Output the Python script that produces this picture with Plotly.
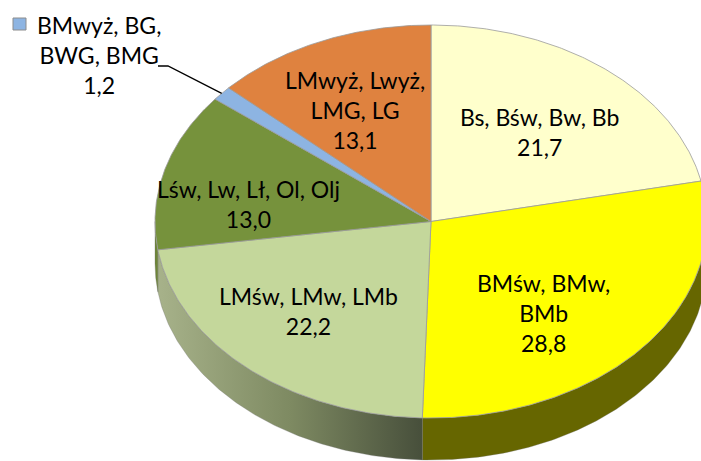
import numpy as np
import plotly.graph_objects as go

# ---- data ----
categories = ["Bs, Bśw, Bw, Bb", "BMśw, BMw,<br>BMb", "LMśw, LMw, LMb",
              "Lśw, Lw, Lł, Ol, Olj", "BMwyż, BG,<br>BWG, BMG", "LMwyż, Lwyż,<br>LMG, LG"]
values = [21.7, 28.8, 22.2, 13.0, 1.2, 13.1]
top_colors = ["#FFFFCC", "#FFFF00", "#C4D79B", "#76923C", "#8DB4E2", "#DF823F"]
side_colors = ["#D8D8A8", "#666600", None, "#6E8638", "#6A8AB0", "#A85F2A"]

# ---- geometry (pixels) ----
W, H = 701, 461
CX, CY, RX, RY, DEPTH = 431.0, 221.5, 276.0, 196.5, 42.0
label_pos = [(539, 132), (543, 313), (308, 311), (248, 204), (99, 55), (355, 110)]
FONT = "Lato"
FS = 23

def pt(a_deg, r=1.0):
    a = np.radians(a_deg)
    return CX + RX * r * np.sin(a), CY - RY * r * np.cos(a)

total = sum(values)
angles = np.cumsum([0] + [v / total * 360 for v in values])

fig = go.Figure()

# sides (front half only)
for i, v in enumerate(values):
    a0, a1 = angles[i], angles[i + 1]
    v0, v1 = max(a0, 90), min(a1, 270)
    if v1 <= v0:
        continue
    t = np.linspace(v0, v1, 120)
    xs, ys = pt(t)
    px = list(xs) + list(xs[::-1]) + [xs[0]]
    py = list(ys) + list((ys + DEPTH)[::-1]) + [ys[0]]
    kw = {}
    if side_colors[i] is None:
        kw["fillgradient"] = dict(type="horizontal",
                                  colorscale=[[0, "#A7B28A"], [0.5, "#7E8A62"], [1, "#474F3B"]])
        kw["fillcolor"] = "#7E8A62"
    else:
        kw["fillcolor"] = side_colors[i]
    fig.add_trace(go.Scatter(x=px, y=py, mode="lines", fill="toself",
                             line=dict(color="rgba(110,110,110,0.5)", width=0.6),
                             hoverinfo="skip", **kw))

# top faces
for i, v in enumerate(values):
    a0, a1 = angles[i], angles[i + 1]
    t = np.linspace(a0, a1, max(int((a1 - a0) * 2), 6))
    xs, ys = pt(t)
    px = [CX] + list(xs) + [CX]
    py = [CY] + list(ys) + [CY]
    fig.add_trace(go.Scatter(x=px, y=py, mode="lines", fill="toself",
                             fillcolor=top_colors[i],
                             line=dict(color="#9A9A9A", width=0.8),
                             hoverinfo="skip"))

# labels
for i, v in enumerate(values):
    txt = categories[i] + "<br>" + f"{v:.1f}".replace(".", ",")
    x, y = label_pos[i]
    fig.add_annotation(x=x, y=y, text=txt, showarrow=False, xanchor="center", yanchor="middle",
                       font=dict(family=FONT, size=FS, color="black"))

# leader line for the small slice
mid = (angles[4] + angles[5]) / 2
ex, ey = pt(mid)
fig.add_shape(type="path", path=f"M 158 66 L 168 66 L {ex:.1f} {ey:.1f}",
              line=dict(color="black", width=1.3), xref="x", yref="y")
# legend key square
fig.add_shape(type="rect", x0=13, x1=26, y0=18, y1=30, xref="x", yref="y",
              fillcolor=top_colors[4], line=dict(color="#8C8C8C", width=1))

fig.update_layout(width=W, height=H, margin=dict(l=0, r=0, t=0, b=0),
                  paper_bgcolor="white", plot_bgcolor="white", showlegend=False,
                  xaxis=dict(range=[0, W], visible=False, fixedrange=True),
                  yaxis=dict(range=[H, 0], visible=False, fixedrange=True))
fig.write_html("out.html", config={"displayModeBar": False},
               post_script="document.body.style.margin='0';document.body.style.overflow='hidden';")
